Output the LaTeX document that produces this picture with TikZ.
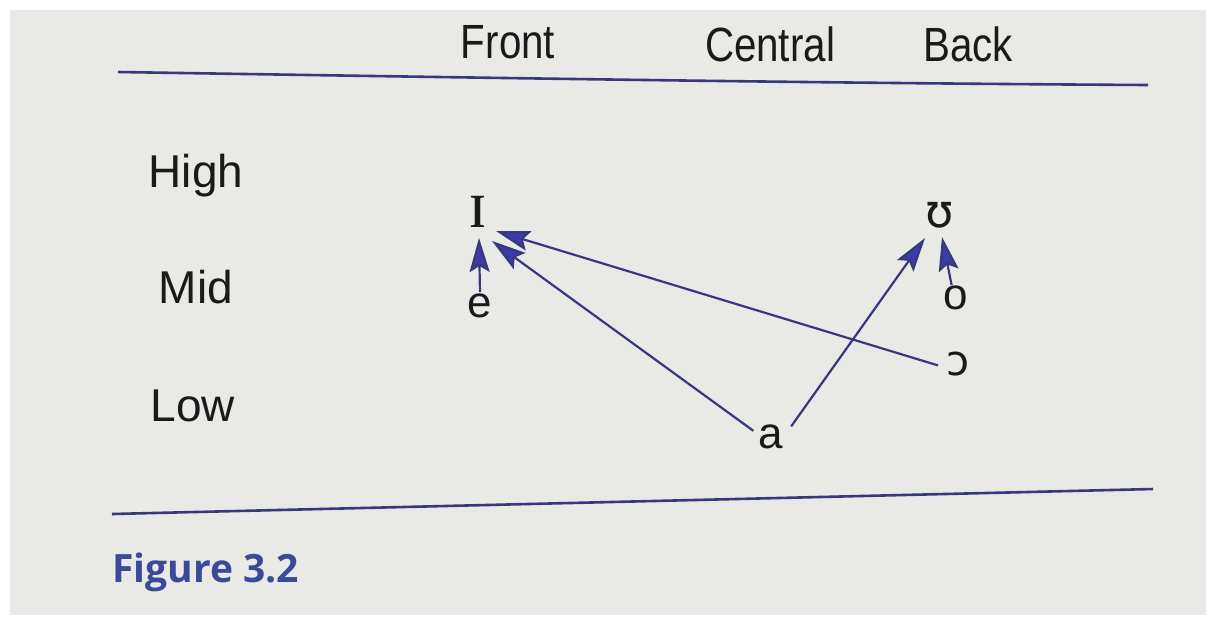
\documentclass[tikz,border=0pt]{standalone}
\usepackage{fontspec}
\setmainfont{Liberation Sans}
\newfontfamily\ipaserif{Liberation Serif}
\newfontfamily\ipasans{DejaVu Sans}
\newfontfamily\figfont{Open Sans}
\usetikzlibrary{arrows.meta}
\definecolor{paper}{HTML}{E9E9E6}
\definecolor{rule}{HTML}{38387E}
\definecolor{arrowblue}{HTML}{3C3CA4}
\definecolor{figblue}{HTML}{3A4A98}
\definecolor{ink}{HTML}{1A1A1A}
\tikzset{
  x=0.5pt, y=-0.5pt,
  head/.style={font=\fontsize{24}{24}\selectfont, text=ink, inner sep=0pt, anchor=base},
  rowlabel/.style={font=\fontsize{23}{23}\selectfont, text=ink, inner sep=0pt, anchor=base},
  sym/.style={font=\fontsize{22}{22}\selectfont, text=ink, inner sep=1pt},
  rulestyle/.style={draw=rule, line width=1.3pt},
  vowelarrow/.style={draw=rule, line width=1.1pt, -{Stealth[length=17pt, width=10pt, inset=3pt, fill=arrowblue]}, shorten >=0pt, shorten <=1pt},
}
\begin{document}
\begin{tikzpicture}
\useasboundingbox (0,0) rectangle (1214,623);
\fill[white] (0,0) rectangle (1214,623);
\fill[paper] (10,10) rectangle (1206,615);
% headers
\node[head] (front) at (508,58) {\scalebox{0.84}[1]{Front}};
\node[head] (central) at (770,61) {\scalebox{0.84}[1]{Central}};
\node[head] (back) at (968,61) {\scalebox{0.84}[1]{Back}};
% rules
\coordinate (t1) at (118,72);
\coordinate (t2) at (1148,85);
\draw[rulestyle] (t1) .. controls (500,78) and (800,83) .. (t2);
\coordinate (b1) at (112,514);
\coordinate (b2) at (1153,489);
\draw[rulestyle] (b1) -- (b2);
% row labels
\node[rowlabel] (high) at (196,187) {High};
\node[rowlabel] (mid) at (196,303) {Mid};
\node[rowlabel] (low) at (193,421) {Low};
% vowels
\node[sym] (I) at (478,212) {\ipaserif\fontsize{34}{34}\selectfont ɪ};
\node[sym] (e) at (480,306) {e};
\node[sym] (U) at (940,215) {\ipasans\fontsize{23}{23}\selectfont ʊ};
\node[sym] (o) at (956,298) {o};
\node[sym] (O) at (958,364) {\ipasans\fontsize{21}{21}\selectfont ɔ};
\node[sym] (a) at (771,437) {a};
% arrows
\coordinate (eS) at (480,294);
\coordinate (IeT) at (479,238);
\draw[vowelarrow] (eS) -- (IeT);
\coordinate (aS1) at (755,432);
\coordinate (IaT) at (492,241);
\draw[vowelarrow] (aS1) -- (IaT);
\coordinate (OS) at (940,366);
\coordinate (IOT) at (496,231);
\draw[vowelarrow] (OS) -- (IOT);
\coordinate (aS2) at (790,428);
\coordinate (UaT) at (925,238);
\draw[vowelarrow] (aS2) -- (UaT);
\coordinate (oS) at (952,287);
\coordinate (UoT) at (942,237);
\draw[vowelarrow] (oS) -- (UoT);
% caption
\node[font=\figfont\bfseries\fontsize{19.5}{20}\selectfont, text=figblue, anchor=base west, inner sep=0pt] (fig) at (112,582) {Figure 3.2};
\end{tikzpicture}
\end{document}
